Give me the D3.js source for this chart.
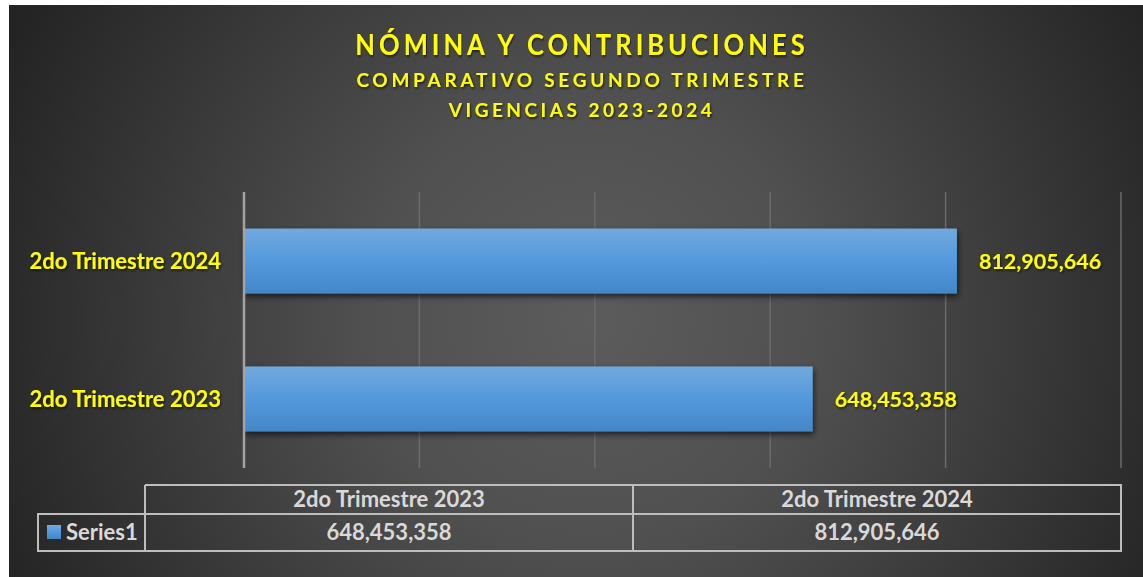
<!DOCTYPE html>
<html>
<head>
<meta charset="utf-8">
<script src="https://cdn.jsdelivr.net/npm/d3@7"></script>
<style>
  html, body { margin: 0; padding: 0; background: #fff; }
  svg { display: block; font-family: Lato, "Open Sans", sans-serif; }
</style>
</head>
<body>
<svg width="1143" height="577"></svg>
<script>
// data
var categories = ['2do Trimestre 2023', '2do Trimestre 2024'];
var values = [648453358, 812905646];
var seriesName = 'Series1';
var titleLines = ['NÓMINA Y CONTRIBUCIONES', 'COMPARATIVO SEGUNDO TRIMESTRE', 'VIGENCIAS 2023-2024'];
var xMax = 1000000000,
    xStep = 200000000;

var svg = d3.select('svg'),
    w = +svg.attr('width'),
    h = +svg.attr('height');

var fmt = d3.format(',');
var defs = svg.append('defs');

// background
var bg = defs.append('radialGradient')
    .attr('id', 'bg')
    .attr('gradientUnits', 'userSpaceOnUse')
    .attr('cx', 590).attr('cy', 320).attr('r', 640);
bg.append('stop').attr('offset', '0').attr('stop-color', '#5c5c5c');
bg.append('stop').attr('offset', '0.35').attr('stop-color', '#505050');
bg.append('stop').attr('offset', '1').attr('stop-color', '#242424');

var barGrad = defs.append('linearGradient')
    .attr('id', 'bar')
    .attr('x1', 0).attr('y1', 0).attr('x2', 0).attr('y2', 1);
barGrad.append('stop').attr('offset', '0').attr('stop-color', '#72a9de');
barGrad.append('stop').attr('offset', '0.5').attr('stop-color', '#5399dc');
barGrad.append('stop').attr('offset', '1').attr('stop-color', '#4387c8');

var shadow = defs.append('filter').attr('id', 'shadow')
    .attr('x', '-5%').attr('y', '-20%').attr('width', '115%').attr('height', '150%');
shadow.append('feDropShadow')
    .attr('dx', 1).attr('dy', 3).attr('stdDeviation', 3)
    .attr('flood-color', '#000').attr('flood-opacity', 0.65);

var txtShadow = defs.append('filter').attr('id', 'tshadow');
txtShadow.append('feDropShadow')
    .attr('dx', 1).attr('dy', 1.5).attr('stdDeviation', 0.8)
    .attr('flood-color', '#000').attr('flood-opacity', 0.7);

svg.append('rect')
    .attr('x', 9).attr('y', 5)
    .attr('width', w - 9).attr('height', h - 5)
    .attr('fill', 'url(#bg)');

// scales
var x = d3.scaleLinear().domain([0, xMax]).range([244, 1121]);
var y = d3.scaleBand().domain(categories).range([468, 192])
    .paddingInner(0.529).paddingOuter(0.265);
var col = d3.scaleBand().domain(categories).range([145, 1121]);

// titles (calibri-ish look: taller glyphs, squeezed a little)
var titleSizes = [29, 19, 19],
    titleBase = [55, 87, 117],
    titleSpacing = [4.6, 3.7, 3.5],
    titleSqueeze = [0.88, 1, 1];
svg.append('g').attr('class', 'title')
  .selectAll('text')
  .data(titleLines)
  .enter()
  .append('text')
    .attr('transform', function(d, i) {
      return 'translate(582,' + titleBase[i] + ') scale(' + titleSqueeze[i] + ',1)';
    })
    .attr('text-anchor', 'middle')
    .attr('font-weight', 'bold')
    .attr('font-size', function(d, i) { return titleSizes[i]; })
    .attr('letter-spacing', function(d, i) { return titleSpacing[i]; })
    .attr('fill', '#ffff00')
    .attr('filter', 'url(#tshadow)')
    .text(function(d) { return d; });

// gridlines
svg.append('g').attr('class', 'grid')
  .selectAll('line')
  .data(d3.range(xStep, xMax + 1, xStep))
  .enter()
  .append('line')
    .attr('x1', function(d) { return x(d); })
    .attr('x2', function(d) { return x(d); })
    .attr('y1', 192).attr('y2', 468)
    .attr('stroke', '#6b6b6b')
    .attr('stroke-width', 1.5);

// bars
svg.append('g').attr('class', 'bars')
  .selectAll('rect')
  .data(values)
  .enter()
  .append('rect')
    .attr('x', x(0))
    .attr('y', function(d, i) { return y(categories[i]); })
    .attr('width', function(d) { return x(d) - x(0); })
    .attr('height', y.bandwidth())
    .attr('fill', 'url(#bar)')
    .attr('filter', 'url(#shadow)');

// axis line
svg.append('line')
    .attr('x1', x(0)).attr('x2', x(0))
    .attr('y1', 192).attr('y2', 468)
    .attr('stroke', '#a3a3a3')
    .attr('stroke-width', 2.5);

// category labels
svg.append('g').attr('class', 'cats')
  .selectAll('text')
  .data(categories)
  .enter()
  .append('text')
    .attr('x', 221)
    .attr('y', function(d) { return y(d) + y.bandwidth() / 2; })
    .attr('dy', '0.36em')
    .attr('text-anchor', 'end')
    .attr('font-weight', 'bold')
    .attr('font-size', 22)
    .attr('fill', '#ffff00')
    .attr('filter', 'url(#tshadow)')
    .text(function(d) { return d; });

// value labels
svg.append('g').attr('class', 'vals')
  .selectAll('text')
  .data(values)
  .enter()
  .append('text')
    .attr('x', function(d) { return x(d) + 22; })
    .attr('y', function(d, i) { return y(categories[i]) + y.bandwidth() / 2; })
    .attr('dy', '0.36em')
    .attr('font-weight', 'bold')
    .attr('font-size', 21.5)
    .attr('fill', '#ffff00')
    .attr('filter', 'url(#tshadow)')
    .text(function(d) { return fmt(d); });

// data table
var tbl = svg.append('g').attr('class', 'table'),
    rowTop = 485, rowMid = 514, rowBot = 551, legLeft = 38,
    lineCol = '#bdbdbd';

tbl.append('path')
    .attr('d', 'M' + col.range()[0] + ',' + rowTop + 'H' + col.range()[1] + 'V' + rowBot +
               'H' + legLeft + 'V' + rowMid + 'H' + col.range()[1] +
               'M' + col.range()[0] + ',' + rowTop + 'V' + rowBot +
               'M' + col(categories[1]) + ',' + rowTop + 'V' + rowBot)
    .attr('fill', 'none')
    .attr('stroke', lineCol)
    .attr('stroke-width', 2);

tbl.selectAll('text.head')
  .data(categories)
  .enter()
  .append('text')
    .attr('class', 'head')
    .attr('x', function(d) { return col(d) + col.bandwidth() / 2; })
    .attr('y', (rowTop + rowMid) / 2)
    .attr('dy', '0.36em')
    .attr('text-anchor', 'middle')
    .attr('font-weight', 'bold')
    .attr('font-size', 22)
    .attr('fill', '#d9d9d9')
    .text(function(d) { return d; });

tbl.selectAll('text.cell')
  .data(values)
  .enter()
  .append('text')
    .attr('class', 'cell')
    .attr('x', function(d, i) { return col(categories[i]) + col.bandwidth() / 2; })
    .attr('y', (rowMid + rowBot) / 2)
    .attr('dy', '0.36em')
    .attr('text-anchor', 'middle')
    .attr('font-weight', 'bold')
    .attr('font-size', 22)
    .attr('fill', '#d9d9d9')
    .text(function(d) { return fmt(d); });

tbl.append('rect')
    .attr('x', 47).attr('y', 525)
    .attr('width', 14).attr('height', 14)
    .attr('fill', 'url(#bar)');

tbl.append('text')
    .attr('x', 66)
    .attr('y', (rowMid + rowBot) / 2)
    .attr('dy', '0.36em')
    .attr('font-weight', 'bold')
    .attr('font-size', 22)
    .attr('fill', '#d9d9d9')
    .text(seriesName);
</script>
</body>
</html>
